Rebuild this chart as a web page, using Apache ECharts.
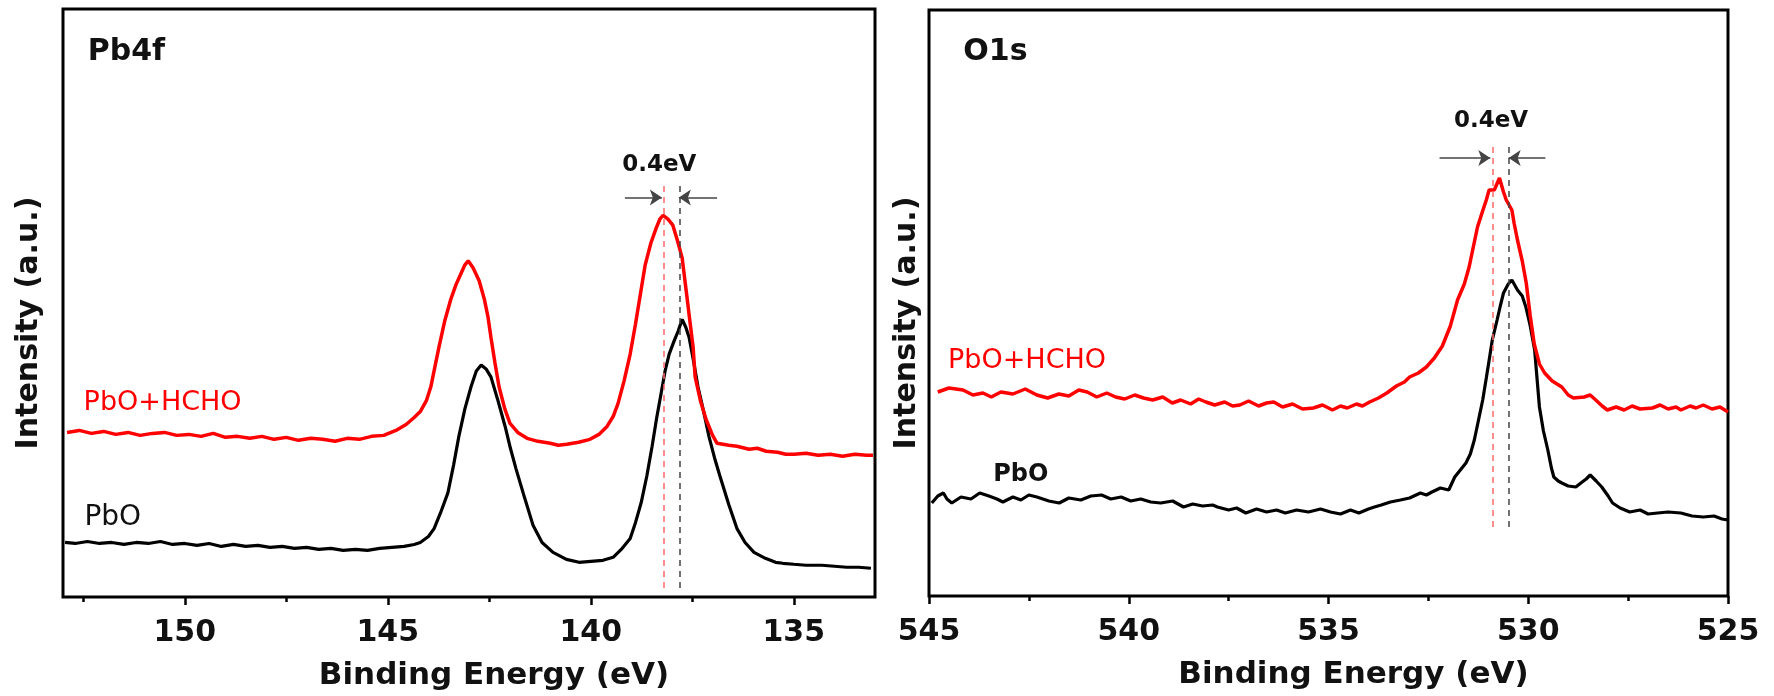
<!DOCTYPE html>
<html><head><meta charset="utf-8">
<script src="https://cdn.jsdelivr.net/npm/echarts@6/dist/echarts.min.js"></script>
<style>html,body{margin:0;padding:0;background:#fff}#c{width:1774px;height:696px}</style>
</head><body><div id="c"></div>
<script>
// ---------- Pb4f panel (binding energy eV, intensity a.u.) ----------
const pbRedE = [152.9,152.6,152.3,152.0,151.7,151.4,151.1,150.8,150.5,150.2,149.9,149.6,149.3,149.0,148.7,148.4,148.1,147.8,147.5,147.2,146.9,146.6,146.3,146.0,145.7,145.4,145.1,144.8,144.55,144.35,144.2,144.05,143.94,143.84,143.74,143.6,143.45,143.32,143.2,143.1,143.02,142.9,142.75,142.62,142.53,142.46,142.36,142.26,142.12,141.99,141.8,141.57,141.3,141.0,140.8,140.59,140.3,140.02,139.8,139.6,139.45,139.33,139.18,139.03,138.9,138.78,138.66,138.52,138.39,138.3,138.22,138.1,137.98,137.87,137.75,137.63,137.55,137.48,137.43,137.3,137.16,137.0,136.89,136.6,136.4,136.1,135.9,135.68,135.4,135.2,134.99,134.7,134.4,134.1,133.8,133.5,133.2,133.05];
const pbRedI = [166,168,165,167,164,166,163,165,166,163,164,162,165,161,162,160,162,159,161,158,160,159,157,160,159,162,163,168,174,181,187,198,212,232,252,278,300,315,326,335,339,332,319,300,282,262,236,212,190,175,166,160,157,155,153,154,156,159,164,172,182,195,218,245,275,305,335,357,372,381,385,381,375,360,342,302,275,252,222,198,179,163,155,153,152,149,150,147,146,144,144,145,143,144,142,144,143,143];
const pbBlackE = [152.95,152.7,152.4,152.1,151.8,151.5,151.2,150.9,150.6,150.3,150.0,149.7,149.4,149.1,148.8,148.5,148.2,147.9,147.6,147.3,147.0,146.7,146.4,146.1,145.8,145.5,145.2,144.9,144.6,144.35,144.2,144.0,143.86,143.7,143.52,143.38,143.25,143.1,142.95,142.82,142.7,142.58,142.46,142.3,142.11,141.98,141.84,141.63,141.42,141.2,140.93,140.6,140.29,140.0,139.7,139.45,139.25,139.03,138.9,138.76,138.62,138.49,138.38,138.27,138.17,138.07,137.95,137.85,137.75,137.66,137.58,137.47,137.36,137.22,137.09,136.95,136.82,136.6,136.4,136.2,135.98,135.7,135.45,135.27,135.0,134.7,134.31,134.0,133.7,133.4,133.1];
const pbBlackI = [55,54,56,54,55,53,55,54,56,53,54,52,54,51,53,51,52,50,51,49,50,48,49,47,48,47,49,50,51,53,55,61,69,85,105,133,162,190,212,228,234,230,222,200,172,150,129,100,72,55,45,38,35,36,37,40,48,59,75,95,122,152,180,205,228,245,258,268,280,272,262,238,212,187,162,140,122,93,69,55,45,39,35,34,33,32,32,31,30,30,29];
const pbMajorTicks = [135,140,145,150];
const pbMinorTicks = [137.5,142.5,147.5,152.5];
const pbPeakRed = 138.2, pbPeakBlack = 137.8;

// ---------- O1s panel ----------
const oRedE = [544.78,544.5,544.15,543.9,543.65,543.44,543.2,542.9,542.59,542.3,542.03,541.75,541.5,541.25,541.04,540.8,540.55,540.33,540.1,539.85,539.63,539.4,539.15,538.91,538.7,538.45,538.25,538.07,537.85,537.6,537.4,537.22,537.0,536.75,536.55,536.37,536.15,535.9,535.65,535.38,535.15,534.9,534.7,534.53,534.3,534.15,533.97,533.75,533.54,533.3,533.1,532.97,532.75,532.55,532.35,532.15,531.95,531.77,531.6,531.48,531.37,531.27,531.15,531.05,530.98,530.85,530.72,530.62,530.55,530.41,530.35,530.27,530.15,530.05,529.95,529.85,529.72,529.59,529.4,529.16,529.0,528.87,528.6,528.45,528.31,528.15,528.02,527.8,527.6,527.4,527.2,526.89,526.7,526.5,526.3,526.18,525.95,525.8,525.62,525.4,525.2,525.0];
const oRedI = [204,208,206,201,203,199,204,202,207,201,198,202,200,206,204,199,203,199,197,201,198,196,199,193,196,192,197,194,191,194,190,191,195,190,193,194,189,192,187,188,191,186,190,188,192,190,194,198,203,210,214,219,223,229,238,250,270,296,312,329,350,369,384,396,406,406,418,404,396,386,372,356,335,313,280,252,232,223,215,209,201,198,199,201,196,190,186,189,186,190,187,188,191,187,189,186,190,188,191,187,189,184];
const oBlackE = [544.93,544.78,544.64,544.55,544.43,544.2,543.95,543.73,543.5,543.3,543.15,542.9,542.7,542.5,542.3,542.0,541.74,541.5,541.2,540.95,540.68,540.45,540.19,539.95,539.7,539.45,539.2,538.9,538.63,538.4,538.15,537.9,537.78,537.5,537.3,537.07,536.8,536.55,536.3,536.08,535.8,535.5,535.2,534.95,534.7,534.45,534.24,534.0,533.85,533.68,533.45,533.2,532.97,532.7,532.55,532.41,532.2,531.99,531.84,531.7,531.56,531.45,531.35,531.25,531.14,531.05,530.99,530.9,530.78,530.7,530.62,530.5,530.41,530.34,530.27,530.15,530.06,529.95,529.84,529.72,529.62,529.51,529.42,529.36,529.25,529.16,529.0,528.81,528.65,528.55,528.45,528.3,528.16,528.0,527.89,527.7,527.46,527.2,527.0,526.76,526.5,526.18,525.9,525.62,525.35,525.15,525.0];
const oBlackI = [93,100,103,97,93,99,97,103,100,97,94,99,96,101,99,95,93,98,96,100,101,97,99,95,97,94,93,95,89,92,90,91,89,86,88,83,87,84,86,83,86,84,87,84,82,86,83,87,89,91,94,96,98,103,101,104,108,106,119,126,133,142,156,175,196,218,233,256,276,290,303,312,316,311,306,300,289,270,246,189,165,146,128,119,115,113,110,109,114,117,121,115,109,100,93,88,84,86,82,83,84,83,80,79,80,77,76];
const oPeakRed = 530.9, oPeakBlack = 530.5;

const zip = (a, b) => a.map((v, i) => [v, b[i]]);
const FONT = 'DejaVu Sans';
const TXT = '#111';

function note(text, x, y, size, weight, color, align) {
  return { value: [x, y], label: { show: true, position: [0, 0], align: align || 'left', verticalAlign: 'middle',
    formatter: text, fontSize: size, fontWeight: weight, color: color, fontFamily: FONT, opacity: 1 } };
}

const chart = echarts.init(document.getElementById('c'), null, { renderer: 'canvas' });

const xLabel = { fontFamily: FONT, fontWeight: 'bold', fontSize: 30, color: TXT, margin: 21 };
const xName = { fontFamily: FONT, fontWeight: 'bold', fontSize: 31, color: TXT, padding: [0, 0, 0, 50] };
const yName = { fontFamily: FONT, fontWeight: 'bold', fontSize: 30, color: TXT, padding: [0, 40, 0, 0] };
const tickStyle = { color: '#000', width: 2.5 };

const dashRed = { type: [6, 5], color: '#ff6a6a', width: 1.5 };
const dashBlack = { type: [6, 5], color: '#444', width: 1.5 };
const arrowStyle = { type: 'solid', color: '#444', width: 1.5 };

const noteItem = { color: 'rgba(0,0,0,0)', opacity: 1 };

chart.setOption({
  animation: false,
  backgroundColor: '#fff',
  grid: [
    { left: 63, top: 9, width: 812, height: 593, show: true, borderColor: '#000', borderWidth: 3 },
    { left: 929, top: 10, width: 799, height: 586, show: true, borderColor: '#000', borderWidth: 3 }
  ],
  xAxis: [
    { gridIndex: 0, type: 'value', min: 133, max: 153, inverse: true, position: 'bottom',
      axisLine: { show: false }, splitLine: { show: false },
      axisTick: { show: true, customValues: pbMajorTicks, length: 8, lineStyle: tickStyle },
      axisLabel: Object.assign({ customValues: pbMajorTicks }, xLabel),
      name: 'Binding Energy (eV)', nameLocation: 'middle', nameGap: 63, nameTextStyle: xName },
    { gridIndex: 1, type: 'value', min: 525, max: 545, interval: 5, inverse: true, position: 'bottom',
      axisLine: { show: false }, splitLine: { show: false },
      axisTick: { show: true, length: 8, lineStyle: tickStyle },
      minorTick: { show: true, splitNumber: 2, length: 5, lineStyle: tickStyle },
      axisLabel: xLabel,
      name: 'Binding Energy (eV)', nameLocation: 'middle', nameGap: 63, nameTextStyle: xName },
    { gridIndex: 0, type: 'value', min: 133, max: 153, inverse: true, position: 'bottom',
      axisLine: { show: false }, splitLine: { show: false }, axisLabel: { show: false },
      axisTick: { show: true, customValues: pbMinorTicks, length: 5, lineStyle: tickStyle } }
  ],
  yAxis: [
    { gridIndex: 0, type: 'value', min: 0, max: 593, axisLine: { show: false }, axisTick: { show: false },
      axisLabel: { show: false }, splitLine: { show: false },
      name: 'Intensity (a.u.)', nameLocation: 'middle', nameRotate: 90, nameGap: 19, nameTextStyle: yName },
    { gridIndex: 1, type: 'value', min: 0, max: 586, axisLine: { show: false }, axisTick: { show: false },
      axisLabel: { show: false }, splitLine: { show: false },
      name: 'Intensity (a.u.)', nameLocation: 'middle', nameRotate: 90, nameGap: 7, nameTextStyle: yName }
  ],
  series: [
    { type: 'scatter', xAxisIndex: 0, yAxisIndex: 0, symbolSize: 1, itemStyle: noteItem, z: 1,
      data: [
        note('Pb4f', 152.38, 549, 30, 'bold', TXT),
        note('0.4eV', 138.3, 435, 23, 'bold', TXT, 'center'),
        note('PbO+HCHO', 152.48, 195, 27, 'normal', '#ff0000'),
        note('PbO', 152.46, 79, 28, 'normal', TXT)
      ],
      markLine: { silent: true, symbol: 'none', animation: false, label: { show: false },
        data: [
          [{ coord: [pbPeakRed, 9], lineStyle: dashRed }, { coord: [pbPeakRed, 415] }],
          [{ coord: [pbPeakBlack, 9], lineStyle: dashBlack }, { coord: [pbPeakBlack, 415] }],
          [{ coord: [139.16, 403], lineStyle: arrowStyle, symbol: 'none' }, { coord: [138.25, 403], symbol: 'arrow', symbolSize: 12 }],
          [{ coord: [136.89, 403], lineStyle: arrowStyle, symbol: 'none' }, { coord: [137.83, 403], symbol: 'arrow', symbolSize: 12 }]
        ] } },
    { type: 'line', xAxisIndex: 0, yAxisIndex: 0, data: zip(pbBlackE, pbBlackI), showSymbol: false, z: 3,
      lineStyle: { color: '#000', width: 3.2 } },
    { type: 'line', xAxisIndex: 0, yAxisIndex: 0, data: zip(pbRedE, pbRedI), showSymbol: false, z: 4,
      lineStyle: { color: '#ff0000', width: 3.5 } },

    { type: 'scatter', xAxisIndex: 1, yAxisIndex: 1, symbolSize: 1, itemStyle: noteItem, z: 1,
      data: [
        note('O1s', 544.13, 543, 30, 'bold', TXT),
        note('0.4eV', 530.92, 474, 23, 'bold', TXT, 'center'),
        note('PbO+HCHO', 544.51, 235, 27, 'normal', '#ff0000'),
        note('PbO', 543.38, 121, 24, 'bold', TXT)
      ],
      markLine: { silent: true, symbol: 'none', animation: false, label: { show: false },
        data: [
          [{ coord: [oPeakRed, 69], lineStyle: dashRed }, { coord: [oPeakRed, 454] }],
          [{ coord: [oPeakBlack, 69], lineStyle: dashBlack }, { coord: [oPeakBlack, 454] }],
          [{ coord: [532.22, 438], lineStyle: arrowStyle, symbol: 'none' }, { coord: [530.95, 438], symbol: 'arrow', symbolSize: 12 }],
          [{ coord: [529.57, 438], lineStyle: arrowStyle, symbol: 'none' }, { coord: [530.49, 438], symbol: 'arrow', symbolSize: 12 }]
        ] } },
    { type: 'line', xAxisIndex: 1, yAxisIndex: 1, data: zip(oBlackE, oBlackI), showSymbol: false, z: 3,
      lineStyle: { color: '#000', width: 3.2 } },
    { type: 'line', xAxisIndex: 1, yAxisIndex: 1, data: zip(oRedE, oRedI), showSymbol: false, z: 4,
      lineStyle: { color: '#ff0000', width: 3.5 } }
  ]
});
</script>
</body></html>
